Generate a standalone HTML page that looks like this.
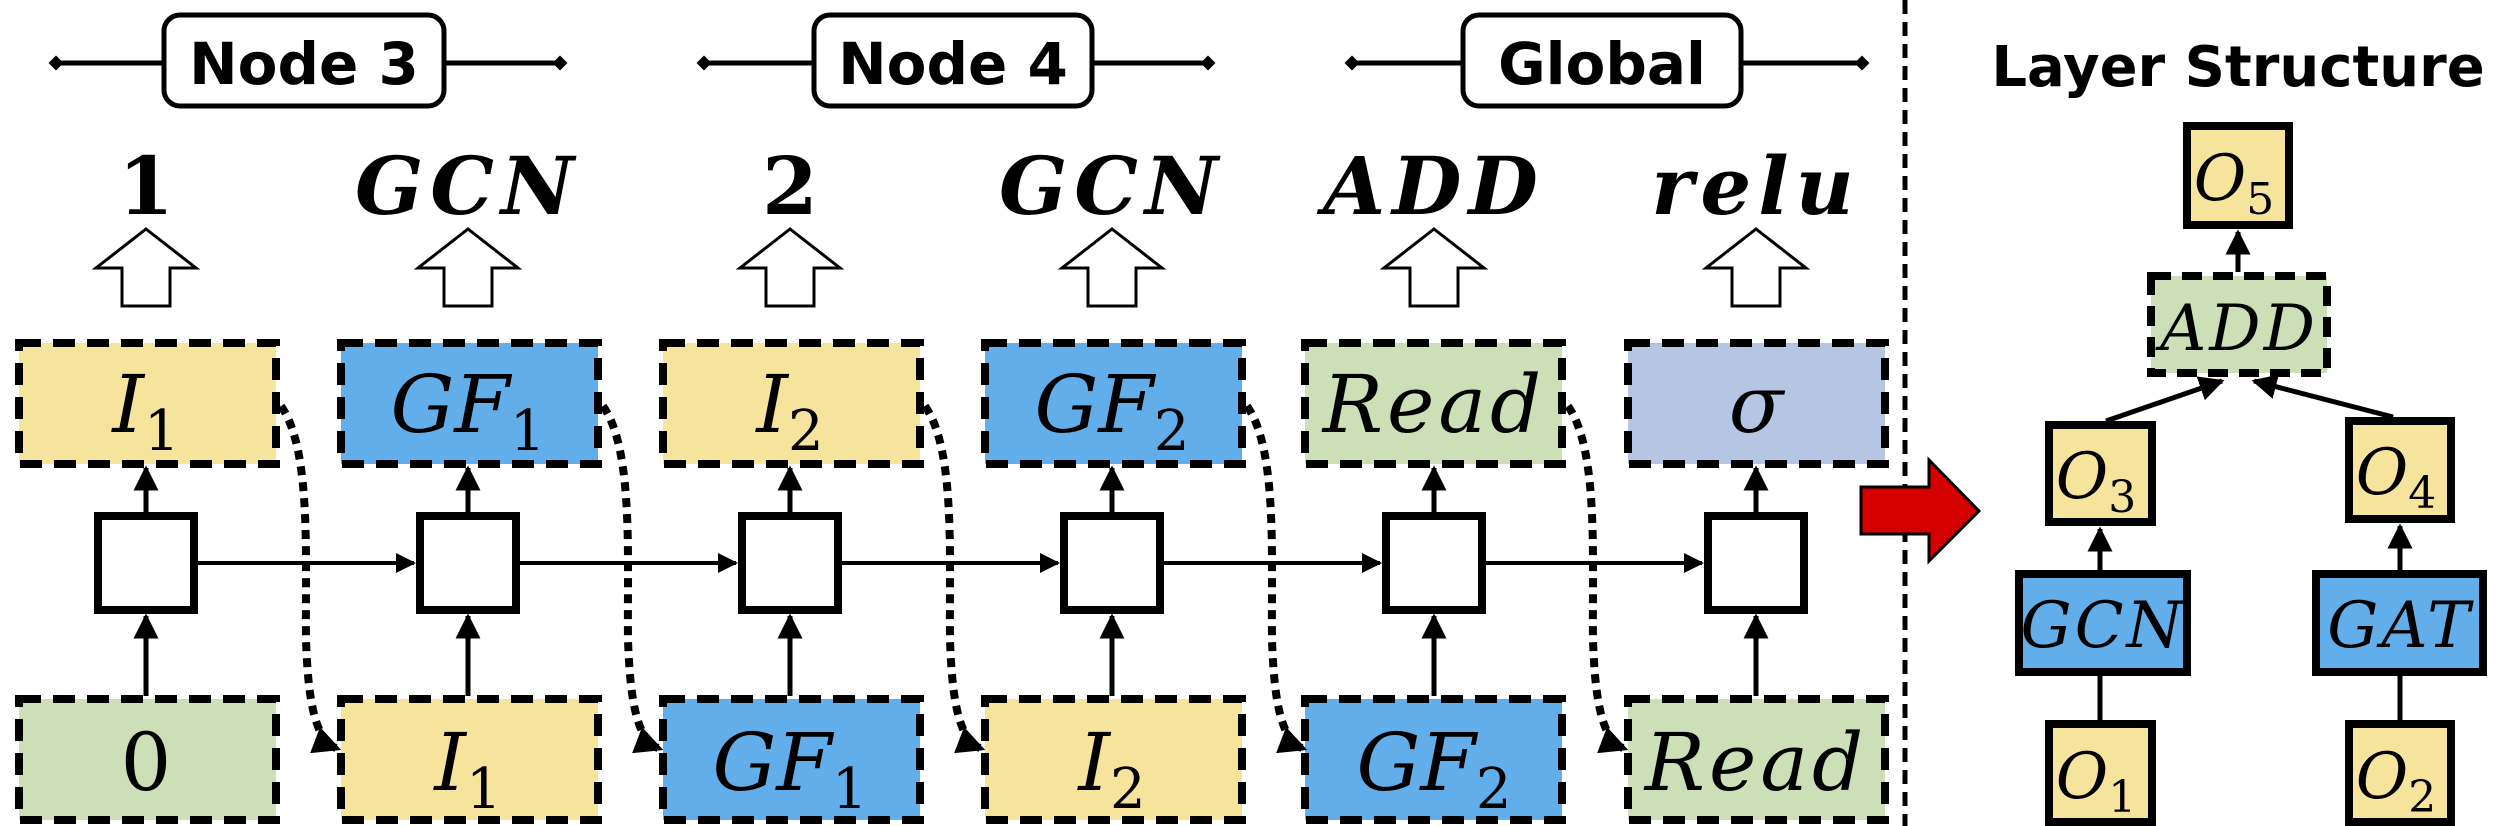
<!DOCTYPE html>
<html><head><meta charset="utf-8"><style>
html,body{margin:0;padding:0;background:#fff}
svg{display:block}
.m{font-family:"DejaVu Serif","Liberation Serif",serif;font-style:italic}
.h{font-family:"DejaVu Sans","Liberation Sans",sans-serif;font-weight:bold}
</style></head><body>
<svg width="2510" height="826" viewBox="0 0 2510 826" xmlns="http://www.w3.org/2000/svg">
<defs>
<marker id="a" viewBox="0 0 10 10" refX="9" refY="5" markerWidth="5" markerHeight="5" orient="auto"><path d="M0,0L10,5L0,10z" fill="#000"/></marker>
<marker id="d" viewBox="0 0 10 10" refX="5" refY="5" markerWidth="3" markerHeight="3" orient="auto"><path d="M0,5L5,0L10,5L5,10z" fill="#000"/></marker>
<marker id="b" viewBox="0 0 10 10" refX="8" refY="5" markerWidth="3.5" markerHeight="3.5" orient="auto"><path d="M0,0L10,5L0,10z" fill="#000"/></marker>
</defs>
<g stroke="#000" stroke-width="5" fill="#fff">
<line x1="56" y1="63" x2="560" y2="63" marker-start="url(#d)" marker-end="url(#d)"/>
<rect x="164" y="15" width="280" height="91" rx="16"/>
<line x1="704" y1="63" x2="1208" y2="63" marker-start="url(#d)" marker-end="url(#d)"/>
<rect x="814" y="15" width="278" height="91" rx="16"/>
<line x1="1352" y1="63" x2="1862" y2="63" marker-start="url(#d)" marker-end="url(#d)"/>
<rect x="1463" y="15" width="278" height="91" rx="16"/>
</g>
<g class="h" font-size="58" text-anchor="middle">
<text x="304" y="84">Node 3</text>
<text x="953" y="84">Node 4</text>
<text x="1602" y="84">Global</text>
</g>
<g font-family="'DejaVu Serif','Liberation Serif',serif" font-weight="bold" font-size="80" text-anchor="middle">
<text x="146" y="214">1</text>
<text x="468" y="214" font-style="italic" letter-spacing="7">GCN</text>
<text x="790" y="214">2</text>
<text x="1112" y="214" font-style="italic" letter-spacing="7">GCN</text>
<text x="1434" y="214" font-style="italic" letter-spacing="7">ADD</text>
<text x="1756" y="214" font-style="italic" letter-spacing="7">relu</text>
</g>
<g fill="#fff" stroke="#000" stroke-width="3">
<path d="M0,229L50,268L24,268L24,306L-24,306L-24,268L-50,268Z" transform="translate(146,0)"/>
<path d="M0,229L50,268L24,268L24,306L-24,306L-24,268L-50,268Z" transform="translate(468,0)"/>
<path d="M0,229L50,268L24,268L24,306L-24,306L-24,268L-50,268Z" transform="translate(790,0)"/>
<path d="M0,229L50,268L24,268L24,306L-24,306L-24,268L-50,268Z" transform="translate(1112,0)"/>
<path d="M0,229L50,268L24,268L24,306L-24,306L-24,268L-50,268Z" transform="translate(1434,0)"/>
<path d="M0,229L50,268L24,268L24,306L-24,306L-24,268L-50,268Z" transform="translate(1756,0)"/>
</g>
<g stroke="#000" stroke-width="8" stroke-dasharray="22 12">
<rect x="19" y="343" width="257" height="121" fill="#f6e49d"/>
<rect x="341" y="343" width="257" height="121" fill="#62aeea"/>
<rect x="663" y="343" width="257" height="121" fill="#f6e49d"/>
<rect x="985" y="343" width="257" height="121" fill="#62aeea"/>
<rect x="1305" y="343" width="257" height="121" fill="#cddfb7"/>
<rect x="1628" y="343" width="257" height="121" fill="#b5c5e4"/>
<rect x="19" y="699" width="257" height="121" fill="#cddfb7"/>
<rect x="341" y="699" width="257" height="121" fill="#f6e49d"/>
<rect x="663" y="699" width="257" height="121" fill="#62aeea"/>
<rect x="985" y="699" width="257" height="121" fill="#f6e49d"/>
<rect x="1305" y="699" width="257" height="121" fill="#62aeea"/>
<rect x="1628" y="699" width="257" height="121" fill="#cddfb7"/>
</g>
<g class="m" font-size="80" text-anchor="middle">
<text x="146" y="432">I<tspan font-size="56" font-style="normal" dy="18">1</tspan></text>
<text x="468" y="432">GF<tspan font-size="56" font-style="normal" dy="18">1</tspan></text>
<text x="790" y="432">I<tspan font-size="56" font-style="normal" dy="18">2</tspan></text>
<text x="1112" y="432">GF<tspan font-size="56" font-style="normal" dy="18">2</tspan></text>
<text x="1434" y="432" letter-spacing="4">Read</text>
<text x="1756" y="432">σ</text>
<text x="146" y="790" font-style="normal">0</text>
<text x="468" y="790">I<tspan font-size="56" font-style="normal" dy="18">1</tspan></text>
<text x="790" y="790">GF<tspan font-size="56" font-style="normal" dy="18">1</tspan></text>
<text x="1112" y="790">I<tspan font-size="56" font-style="normal" dy="18">2</tspan></text>
<text x="1434" y="790">GF<tspan font-size="56" font-style="normal" dy="18">2</tspan></text>
<text x="1756" y="790" letter-spacing="4">Read</text>
</g>
<g stroke="#000" stroke-width="4" fill="none">
<line x1="194" y1="563" x2="414" y2="563" marker-end="url(#a)"/>
<line x1="516" y1="563" x2="736" y2="563" marker-end="url(#a)"/>
<line x1="838" y1="563" x2="1058" y2="563" marker-end="url(#a)"/>
<line x1="1160" y1="563" x2="1380" y2="563" marker-end="url(#a)"/>
<line x1="1482" y1="563" x2="1702" y2="563" marker-end="url(#a)"/>
</g>
<g stroke="#000" stroke-width="5" marker-end="url(#a)">
<line x1="146" y1="696" x2="146" y2="616"/><line x1="146" y1="512" x2="146" y2="468"/>
<line x1="468" y1="696" x2="468" y2="616"/><line x1="468" y1="512" x2="468" y2="468"/>
<line x1="790" y1="696" x2="790" y2="616"/><line x1="790" y1="512" x2="790" y2="468"/>
<line x1="1112" y1="696" x2="1112" y2="616"/><line x1="1112" y1="512" x2="1112" y2="468"/>
<line x1="1434" y1="696" x2="1434" y2="616"/><line x1="1434" y1="512" x2="1434" y2="468"/>
<line x1="1756" y1="696" x2="1756" y2="616"/><line x1="1756" y1="512" x2="1756" y2="468"/>
</g>
<g stroke="#000" stroke-width="8" fill="#fff">
<rect x="98" y="516" width="96" height="94"/>
<rect x="420" y="516" width="96" height="94"/>
<rect x="742" y="516" width="96" height="94"/>
<rect x="1064" y="516" width="96" height="94"/>
<rect x="1386" y="516" width="96" height="94"/>
<rect x="1708" y="516" width="96" height="94"/>
</g>
<g stroke="#000" stroke-width="8" stroke-dasharray="9 7" fill="none" marker-end="url(#b)">
<path d="M281,406 C312,450 305,560 306,640 C308,700 315,740 336,748"/>
<path d="M603,406 C634,450 627,560 628,640 C630,700 637,740 658,748"/>
<path d="M925,406 C956,450 949,560 950,640 C952,700 959,740 980,748"/>
<path d="M1247,406 C1278,450 1271,560 1272,640 C1274,700 1281,740 1302,748"/>
<path d="M1568,406 C1599,450 1592,560 1593,640 C1595,700 1602,740 1623,748"/>
</g>
<line x1="1905" y1="0" x2="1905" y2="826" stroke="#000" stroke-width="5" stroke-dasharray="14 8"/>
<path d="M1861,487L1929,487L1929,460L1979,511L1929,561L1929,534L1861,534Z" fill="#d40000" stroke="#000" stroke-width="3"/>
<text x="2238" y="86" class="h" font-size="56" text-anchor="middle">Layer Structure</text>
<g stroke="#000" stroke-width="5" marker-end="url(#a)">
<line x1="2238" y1="272" x2="2238" y2="232"/>
<line x1="2106" y1="421" x2="2222" y2="381"/>
<line x1="2393" y1="417" x2="2254" y2="381"/>
<line x1="2100" y1="570" x2="2100" y2="529"/>
<line x1="2400" y1="570" x2="2400" y2="526"/>
</g>
<g stroke="#000" stroke-width="5"><line x1="2100" y1="676" x2="2100" y2="720"/><line x1="2400" y1="676" x2="2400" y2="720"/></g>
<g stroke="#000" stroke-width="8">
<rect x="2187" y="126" width="102" height="99" fill="#f6e49d"/>
<rect x="2049" y="425" width="103" height="97" fill="#f6e49d"/>
<rect x="2349" y="421" width="102" height="98" fill="#f6e49d"/>
<rect x="2019" y="574" width="168" height="98" fill="#62aeea"/>
<rect x="2316" y="574" width="167" height="98" fill="#62aeea"/>
<rect x="2049" y="724" width="103" height="98" fill="#f6e49d"/>
<rect x="2349" y="724" width="102" height="98" fill="#f6e49d"/>
<rect x="2151" y="276" width="176" height="97" fill="#cddfb7" stroke-dasharray="20 11"/>
</g>
<g class="m" font-size="64" text-anchor="middle">
<text x="2234" y="200">O<tspan font-size="44" font-style="normal" dy="14">5</tspan></text>
<text x="2096" y="498">O<tspan font-size="44" font-style="normal" dy="14">3</tspan></text>
<text x="2396" y="494">O<tspan font-size="44" font-style="normal" dy="14">4</tspan></text>
<text x="2096" y="798">O<tspan font-size="44" font-style="normal" dy="14">1</tspan></text>
<text x="2396" y="798">O<tspan font-size="44" font-style="normal" dy="14">2</tspan></text>
<text x="2239" y="350" letter-spacing="3">ADD</text>
<text x="2103" y="647" letter-spacing="3">GCN</text>
<text x="2400" y="647" letter-spacing="3">GAT</text>
</g>
</svg>
</body></html>
